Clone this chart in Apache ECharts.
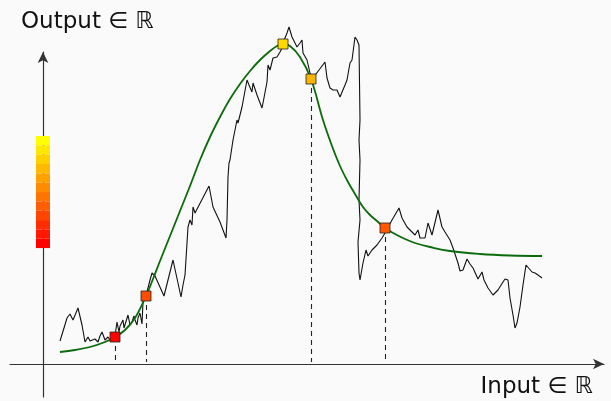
<!DOCTYPE html>
<html>
<head>
<meta charset="utf-8">
<script src="https://cdn.jsdelivr.net/npm/echarts@6/dist/echarts.min.js"></script>
<style>
  html, body { margin: 0; padding: 0; background: #fafafa; }
  #chart { width: 611px; height: 401px; }
</style>
</head>
<body>
<div id="chart"></div>
<script>
// Noisy measured signal: [input, output]
const signalPoints = [
  [1.7, 2.3], [2.1, 3.6], [2.4, 4.6], [2.7, 5.0], [3.0, 4.4], [3.5, 5.6], [3.9, 3.9],
  [4.2, 2.2], [4.5, 2.7], [4.7, 2.3], [4.9, 2.1], [5.2, 2.5], [5.5, 2.2], [5.7, 2.8],
  [5.9, 3.2], [6.2, 2.4], [6.5, 2.7], [6.7, 2.4], [6.9, 2.5], [7.2, 2.8], [7.4, 4.2],
  [7.6, 3.2], [7.7, 3.8], [8.0, 4.4], [8.1, 3.6], [8.3, 3.7], [8.5, 4.9], [8.7, 3.9],
  [8.9, 4.2], [9.1, 4.8], [9.2, 4.4], [9.4, 3.9], [9.5, 4.6], [9.7, 5.1], [9.9, 4.0],
  [10.0, 6.2], [10.3, 6.8], [10.7, 8.4], [10.9, 9.1], [11.2, 8.8], [12.1, 6.8],
  [13.0, 10.4], [13.2, 10.6], [13.8, 6.7], [14.0, 7.9], [14.2, 8.9], [14.4, 12.1],
  [14.5, 13.7], [14.7, 14.4], [14.9, 13.9], [15.0, 15.7], [15.2, 15.1], [16.6, 17.8],
  [17.0, 15.7], [17.7, 14.2], [18.3, 12.6], [18.4, 14.4], [18.5, 18.7], [18.6, 20.1],
  [18.7, 20.4], [19.0, 22.4], [19.4, 24.4], [19.5, 24.1], [19.9, 25.7], [20.4, 28.4],
  [20.6, 27.9], [20.9, 27.2], [21.0, 28.1], [21.4, 26.9], [21.9, 25.6], [22.0, 26.1],
  [22.4, 28.2], [22.5, 29.9], [22.7, 29.4], [23.0, 30.6], [23.4, 30.7], [23.7, 31.2],
  [23.9, 31.6], [24.0, 32.1], [24.4, 33.1], [24.6, 33.7], [24.9, 32.7], [25.1, 32.9],
  [25.4, 31.7], [25.7, 32.1], [25.9, 32.4], [26.0, 31.1], [26.2, 31.2], [26.4, 30.4],
  [26.7, 29.1], [27.0, 28.6], [28.2, 30.2], [28.4, 28.6], [28.7, 27.6], [29.0, 27.4],
  [29.2, 27.2], [29.4, 27.4], [29.7, 26.7], [29.9, 26.9], [30.2, 27.9], [30.4, 28.4],
  [30.7, 30.1], [30.9, 30.4], [31.2, 32.7], [31.4, 32.4], [31.6, 31.9], [31.7, 24.4],
  [31.6, 22.4], [31.7, 20.4], [31.6, 16.4], [31.7, 14.4], [31.5, 12.2], [31.6, 9.1],
  [31.7, 8.4], [32.0, 10.1], [32.3, 11.4], [32.5, 10.8], [32.9, 11.4], [33.4, 11.9],
  [33.9, 12.6], [34.2, 13.1], [34.9, 14.4], [35.6, 15.6], [35.9, 14.6], [36.4, 13.7],
  [37.2, 12.9], [37.5, 13.4], [37.7, 12.6], [37.9, 12.7], [38.2, 12.6], [38.5, 14.1],
  [38.9, 12.9], [39.5, 15.4], [39.9, 13.7], [40.2, 13.2], [40.7, 12.4], [41.0, 11.6],
  [41.5, 10.1], [41.7, 9.3], [42.0, 9.4], [42.4, 10.5], [42.7, 10.0], [43.0, 9.6],
  [43.5, 8.5], [43.9, 9.2], [44.1, 8.4], [44.5, 7.6], [45.0, 6.9], [45.5, 7.4],
  [46.0, 8.2], [46.2, 8.5], [46.5, 8.4], [46.7, 6.6], [47.0, 4.9], [47.2, 3.6],
  [47.4, 4.1], [47.7, 5.7], [48.0, 7.9], [48.3, 9.9], [48.5, 9.7], [48.9, 9.2],
  [49.2, 9.1], [49.5, 8.9], [49.9, 8.6]
];

// Smooth fitted model curve
const modelPoints = [
  [1.7, 1.2], [3.2, 1.4], [4.7, 1.7], [6.2, 2.2], [7.2, 2.7], [8.2, 3.4], [9.2, 4.6],
  [10.3, 6.8], [11.0, 8.5], [11.7, 10.3], [12.7, 12.8], [13.7, 15.3], [14.7, 17.8],
  [15.7, 20.4], [16.7, 22.7], [17.7, 24.7], [18.7, 26.5], [19.7, 28.0], [20.7, 29.3],
  [21.7, 30.4], [22.7, 31.3], [23.4, 31.8], [24.0, 32.0], [24.7, 31.8], [25.7, 30.7],
  [26.8, 28.5], [28.0, 24.4], [28.9, 21.8], [29.7, 19.8], [30.5, 18.2], [31.2, 17.0],
  [32.0, 15.7], [32.7, 14.9], [33.4, 14.3], [34.2, 13.6], [35.2, 13.0], [36.2, 12.5],
  [37.2, 12.1], [38.7, 11.7], [40.7, 11.3], [43.7, 11.0], [46.7, 10.85], [49.9, 10.8]
];

// Sampled points on the model curve
const samplePoints = [
  [7.2, 2.7], [10.3, 6.8], [24.0, 32.0], [26.8, 28.5], [34.2, 13.6]
];
const sampleColors = ['#ff0000', '#ff4d00', '#ffd800', '#f7b500', '#ff5a00'];

// Colour scale range shown by the bar
const scaleRange = [0, 1];

const axisLabels = { x: 'Input ∈ ℝ', y: 'Output ∈ ℝ' };

const chart = echarts.init(document.getElementById('chart'), null, { renderer: 'canvas' });

const axisLineStyle = {
  onZero: true,
  symbol: ['none', 'arrow'],
  symbolSize: [8, 11],
  lineStyle: { color: '#333', width: 1.2 }
};

const labelFont = { fontFamily: 'DejaVu Sans', fontSize: 23, fontWeight: 'normal', color: '#111' };

const option = {
  backgroundColor: '#fafafa',
  animation: false,
  title: [
    { text: axisLabels.y, left: 21, top: 11, padding: 0, textStyle: labelFont },
    { text: axisLabels.x, right: 18, top: 376, padding: 0, textStyle: labelFont }
  ],
  grid: { left: 10, right: 7, top: 52, bottom: 4, containLabel: false, outerBoundsMode: 'none' },
  xAxis: {
    type: 'value', min: -3.3, max: 56.1,
    axisLine: axisLineStyle,
    axisTick: { show: false }, axisLabel: { show: false }, splitLine: { show: false }
  },
  yAxis: {
    type: 'value', min: -3.3, max: 31.2,
    axisLine: axisLineStyle,
    axisTick: { show: false }, axisLabel: { show: false }, splitLine: { show: false }
  },
  visualMap: {
    type: 'piecewise',
    splitNumber: 12,
    min: scaleRange[0], max: scaleRange[1],
    seriesIndex: 3,
    orient: 'vertical',
    left: 36, top: 136,
    padding: 0,
    itemWidth: 14, itemHeight: 9.34, itemGap: 0,
    itemSymbol: 'rect',
    showLabel: false,
    selectedMode: false,
    hoverLink: false,
    inRange: { color: ['#ff0000', '#ffff00'] }
  },
  series: [
    {
      name: 'signal',
      type: 'line',
      data: signalPoints,
      showSymbol: false,
      symbol: 'none',
      clip: false,
      lineStyle: { color: '#111', width: 1.1 },
      z: 2
    },
    {
      name: 'model',
      type: 'line',
      data: modelPoints,
      smooth: 0.4,
      showSymbol: false,
      symbol: 'none',
      clip: false,
      lineStyle: { color: '#0b6a0b', width: 1.8 },
      z: 3
    },
    {
      name: 'samples',
      type: 'scatter',
      data: samplePoints.map((p, i) => ({ value: p, itemStyle: { color: sampleColors[i] } })),
      symbol: 'rect',
      symbolSize: 10,
      clip: false,
      itemStyle: { borderColor: '#222', borderWidth: 0.8, opacity: 1 },
      z: 10,
      markLine: {
        silent: true,
        symbol: 'none',
        z: 4,
        label: { show: false },
        lineStyle: { color: '#222', width: 1.1, type: [5, 4] },
        data: samplePoints.map(p => [{ coord: [p[0], p[1]] }, { coord: [p[0], 0.2] }])
      }
    },
    {
      name: 'scale',
      type: 'scatter',
      data: []
    }
  ]
};

chart.setOption(option);
</script>
</body>
</html>
